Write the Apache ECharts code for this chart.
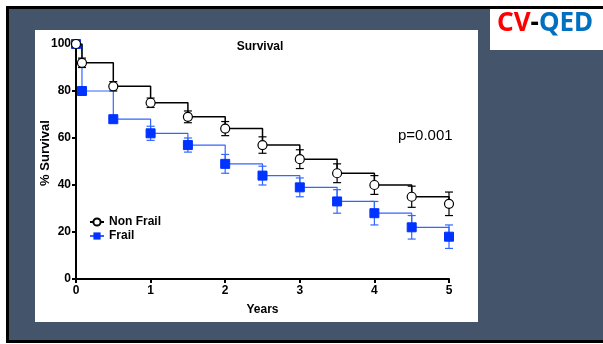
<!DOCTYPE html>
<html><head><meta charset="utf-8">
<script src="https://cdn.jsdelivr.net/npm/echarts@6/dist/echarts.min.js"></script>
<style>html,body{margin:0;padding:0;background:#fff}#c{width:603px;height:344px}</style>
</head><body><div id="c"></div>
<script>
var years = [0, 0.08, 0.5, 1, 1.5, 2, 2.5, 3, 3.5, 4, 4.5, 5];
var nonFrail = [100, 92, 82, 75, 69, 64, 57, 51, 45, 40, 35, 32];
var nonFrailErr = [0, 2, 2, 2, 2.5, 3, 3.5, 4, 4, 4, 4.5, 5];
var frail = [100, 80, 68, 62, 57, 49, 44, 39, 33, 28, 22, 18];
var frailErr = [0, 1, 1, 3, 3, 4, 4, 4, 5, 5, 5, 5];
var xTicks = [0, 1, 2, 3, 4, 5];
var yTicks = [0, 20, 40, 60, 80, 100];

function pairs(v){ return years.map(function(t,i){return [t, v[i]];}); }
function errData(v, e){ return years.map(function(t,i){return [t, v[i]-e[i], v[i]+e[i]];}).filter(function(d,i){return e[i]>0;}); }
function errSeries(v, e, color, w){
  return {
    type:'custom', silent:true, z:2,
    data: errData(v,e),
    renderItem: function(params, api){
      var x = api.value(0), lo = api.coord([x, api.value(1)]), hi = api.coord([x, api.value(2)]);
      var cx = lo[0], hw = 4;
      var st = {stroke: color, lineWidth: w};
      return {type:'group', children:[
        {type:'line', shape:{x1:cx,y1:lo[1],x2:cx,y2:hi[1]}, style:st},
        {type:'line', shape:{x1:cx-hw,y1:lo[1],x2:cx+hw,y2:lo[1]}, style:st},
        {type:'line', shape:{x1:cx-hw,y1:hi[1],x2:cx+hw,y2:hi[1]}, style:st}
      ]};
    }
  };
}
var FF = 'Liberation Sans, Arial, sans-serif';
var axisFont = {color:'#000', fontWeight:'bold', fontSize:12, fontFamily:FF};
var logoFont = '"Noto Sans", sans-serif';
var chart = echarts.init(document.getElementById('c'));
chart.setOption({
  animation:false,
  backgroundColor:'#ffffff',
  graphic:[
    {type:'rect', z:-10, shape:{x:7.5,y:7.5,width:620,height:334}, style:{fill:'#44546a', stroke:'#000', lineWidth:3}},
    {type:'rect', z:-9, shape:{x:35,y:30,width:443,height:292}, style:{fill:'#fff'}},
    {type:'rect', z:-9, shape:{x:490,y:9,width:113,height:41}, style:{fill:'#fff'}},
    {type:'text', left:497, top:11, style:{text:'{r|CV}{k|-}{b|QED}', rich:{
      r:{fill:'#ff0000', fontSize:26, fontWeight:'bold', fontFamily:logoFont},
      k:{fill:'#000', fontSize:26, fontWeight:'bold', fontFamily:logoFont},
      b:{fill:'#0070c0', fontSize:26, fontWeight:'bold', fontFamily:logoFont}}}},
    {type:'text', left:398, top:128, style:{text:'p=0.001', fill:'#000', fontSize:15, fontFamily:FF}},
    {type:'text', x:45, y:153, rotation:Math.PI/2, style:{text:'% Survival', fill:'#000', fontSize:13, fontWeight:'bold', fontFamily:FF, textAlign:'center', textVerticalAlign:'middle'}}
  ],
  title:{text:'Survival', left:255, top:36, textAlign:'center', textStyle:{color:'#000', fontSize:12, fontWeight:'bold', fontFamily:FF}},
  legend:{orient:'vertical', left:84, top:211, itemGap:2, itemWidth:14, itemHeight:9,
    textStyle:{color:'#000', fontSize:12, fontWeight:'bold', fontFamily:FF},
    data:['Non Frail','Frail']},
  grid:{left:76, right:154, top:44, bottom:65, containLabel:false},
  xAxis:{type:'value', min:0, max:5, interval:1, name:'Years', nameLocation:'middle', nameGap:25,
    nameTextStyle:axisFont, splitLine:{show:false},
    axisLine:{onZero:false, lineStyle:{color:'#000', width:2}}, axisTick:{show:true, length:4, lineStyle:{color:'#000', width:2}},
    axisLabel:Object.assign({margin:6, formatter:function(v){return xTicks.indexOf(v)>=0?String(v):'';}}, axisFont)},
  yAxis:{type:'value', min:0, max:100, interval:20,
    splitLine:{show:false},
    axisLine:{show:true, onZero:false, lineStyle:{color:'#000', width:2}}, axisTick:{show:true, length:4, lineStyle:{color:'#000', width:2}},
    axisLabel:Object.assign({margin:5, formatter:function(v){return yTicks.indexOf(v)>=0?String(v):'';}}, axisFont)},
  series:[
    errSeries(frail, frailErr, '#3366ff', 1.2),
    errSeries(nonFrail, nonFrailErr, '#000', 1.2),
    {name:'Frail', type:'line', step:'end', data:pairs(frail), z:3,
      lineStyle:{color:'#3366ff', width:1.2}, itemStyle:{color:'#0033ff', borderColor:'#0033ff'},
      symbol:'rect', symbolSize:9, showAllSymbol:true},
    {name:'Non Frail', type:'line', step:'end', data:pairs(nonFrail), z:4,
      lineStyle:{color:'#000', width:1.5}, itemStyle:{color:'#fff', borderColor:'#000', borderWidth:1.2},
      symbol:'circle', symbolSize:9, showAllSymbol:true}
  ]
});
</script></body></html>
